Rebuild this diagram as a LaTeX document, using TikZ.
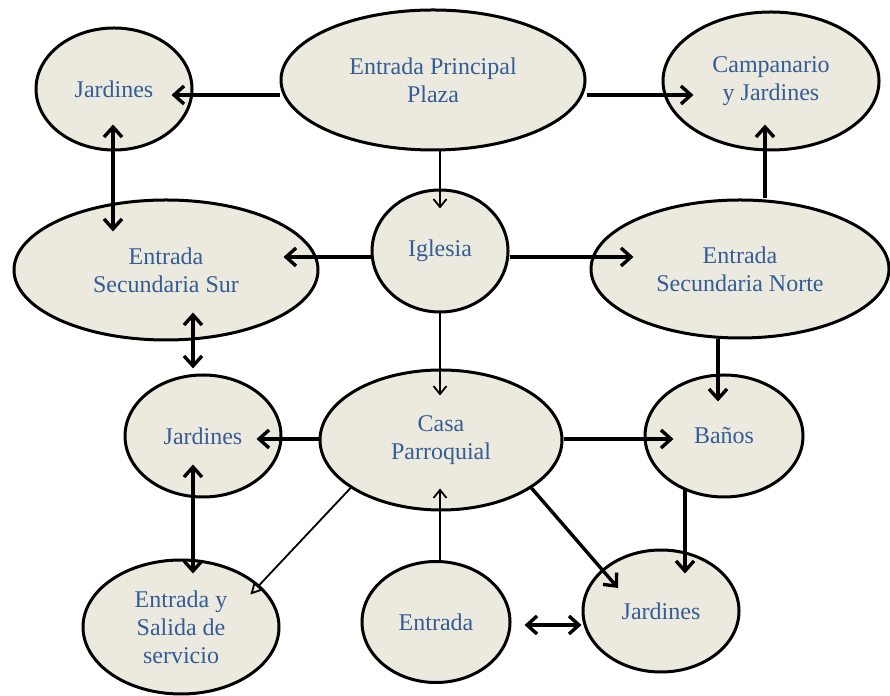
\documentclass[tikz,border=0pt]{standalone}
\usepackage{fontspec}
\setmainfont{Liberation Serif}
\usepackage{xcolor}
\usepackage{tikz}
\usetikzlibrary{arrows.meta, shapes.geometric}
\definecolor{placefill}{RGB}{236,234,223}
\definecolor{placetext}{RGB}{52,92,150}
\tikzset{every picture/.style={x=1pt,y=1pt,every node/.style={ellipse, draw=black, line width=3pt, fill=placefill, text=placetext, align=center, inner sep=0pt, font=\fontsize{24}{28}\selectfont}}}
\tikzset{wide/.style={line width=3.4pt, -{Straight Barb[length=10pt,width=18pt]}},
  twoway/.style={line width=3.4pt, {Straight Barb[length=10pt,width=18pt]}-{Straight Barb[length=10pt,width=18pt]}},
  slim/.style={line width=1.8pt, -{Straight Barb[length=8pt,width=13pt]}},
  hollow/.style={line width=1.8pt, -{Triangle[open,length=12pt,width=12pt]}}}

\begin{document}
\begin{tikzpicture}
        \useasboundingbox (0, 0) rectangle (890, 695);

        \node[minimum width=156pt, minimum height=122pt] (j1) at (114, 606) {Jardines};
        \node[minimum width=304pt, minimum height=140pt] (ep) at (433, 615) {Entrada Principal\\Plaza};
        \node[minimum width=216pt, minimum height=138pt] (cj) at (771, 614) {Campanario\\y Jardines};
        \node[minimum width=136pt, minimum height=122pt] (ig) at (440, 444) {Iglesia};
        \node[minimum width=304pt, minimum height=140pt] (ess) at (166, 425) {Entrada\\Secundaria Sur};
        \node[minimum width=298pt, minimum height=138pt] (esn) at (740, 426) {Entrada\\Secundaria Norte};
        \node[minimum width=156pt, minimum height=122pt] (j2) at (203, 259) {Jardines};
        \node[minimum width=242pt, minimum height=140pt] (cp) at (441, 255) {Casa\\Parroquial};
        \node[minimum width=158pt, minimum height=122pt] (ba) at (724, 259) {Baños};
        \node[minimum width=196pt, minimum height=134pt] (es) at (181, 68) {Entrada y\\Salida de\\servicio};
        \node[minimum width=148pt, minimum height=121pt] (en) at (436, 73) {Entrada};
        \node[minimum width=156pt, minimum height=122pt] (j3) at (661, 84) {Jardines};

        % from/dx/dy/to/dx/dy/style
        \foreach \a/\ax/\ay/\b/\bx/\by/\kind in {
          ep.west/0/-15/j1.east/-22/-6/wide,
          ep.east/0/-15/cj.west/32/-14/wide,
          j1.south/-1/27/ess.north/-53/-33/twoway,
          ep.south/7/0/ig.north/0/-20/slim,
          ig.west/0/-6/ess.east/-36/13/wide,
          ig.east/0/-6/esn.west/44/12/wide,
          esn.north/25/0/cj.south/-6/27/wide,
          ess.south/27/29/j2.north/-10/5/twoway,
          ig.south/0/0/cp.north/-1/-27/slim,
          esn.south/-22/0/ba.north/-6/-28/wide,
          cp.west/0/1/j2.east/-26/-3/wide,
          cp.east/0/1/ba.west/30/-3/wide,
          j2.south/-10/34/es.north/12/-15/twoway,
          cp.208/0/0/es.25/-13/-6/hollow,
          en.north/4/0/cp.south/-1/23/slim,
          cp.332/0/0/j3.center/-43/23/wide,
          ba.south/-39/9/j3.north/24/-25/wide,
          en.east/13/-3/j3.west/0/-14/twoway}
        \draw[\kind] ([xshift=\ax pt, yshift=\ay pt]\a) -- ([xshift=\bx pt, yshift=\by pt]\b);
      \end{tikzpicture}
\end{document}
